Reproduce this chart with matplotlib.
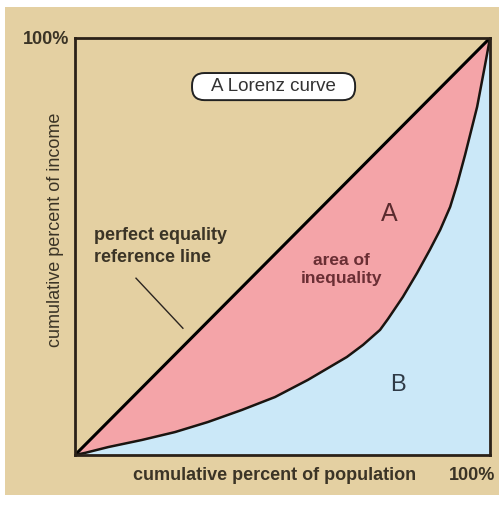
import matplotlib
matplotlib.use("Agg")
import matplotlib.pyplot as plt
from matplotlib.patches import Rectangle, FancyBboxPatch
import numpy as np

plt.rcParams['font.family'] = ['Liberation Sans', 'DejaVu Sans']

# Lorenz curve (cumulative share of population vs. cumulative share of income)
pop = [0.0, 0.024, 0.080, 0.161, 0.241, 0.320, 0.402, 0.482, 0.561, 0.614, 0.655, 0.694,
       0.735, 0.754, 0.790, 0.824, 0.855, 0.880, 0.904, 0.921, 0.940, 0.969, 0.988, 1.0]
income = [0.0, 0.005, 0.019, 0.036, 0.055, 0.079, 0.108, 0.139, 0.180, 0.211, 0.235, 0.264,
          0.300, 0.326, 0.379, 0.436, 0.492, 0.540, 0.595, 0.650, 0.720, 0.835, 0.935, 1.0]
equality = [0.0, 1.0]

BEIGE = '#E4D0A2'
PINK = '#F4A4A8'
BLUE = '#CBE8F8'
DARK = '#2b2118'
TXT = '#3b3426'

fig = plt.figure(figsize=(5.04, 5.08), dpi=100)
fig.patch.set_facecolor('white')
W, H = 504, 508
bg = Rectangle((5 / W, (H - 495) / H), 494 / W, 488 / H,
               transform=fig.transFigure, facecolor=BEIGE,
               edgecolor='none', zorder=-10)
fig.patches.append(bg)

ax = fig.add_axes([75 / W, 53 / H, 415 / W, 417 / H])
ax.set_zorder(1)
ax.set_facecolor(BEIGE)
ax.set_xlim(0, 1)
ax.set_ylim(0, 1)

x = np.array(pop)
y = np.array(income)
ax.fill_between(x, y, x, color=PINK, lw=0, zorder=1)
ax.fill_between(x, 0, y, color=BLUE, lw=0, zorder=1)
ax.plot(equality, equality, color='black', lw=2.2, zorder=3, solid_capstyle='round')
ax.plot(x, y, color='#1a1410', lw=1.8, zorder=3, solid_joinstyle='round')

for s in ax.spines.values():
    s.set_color(DARK)
    s.set_linewidth(2)
    s.set_zorder(4)
ax.set_xticks([])
ax.set_yticks([])

# Title box
box = FancyBboxPatch((0.282, 0.851), 0.393, 0.065,
                     boxstyle='round,pad=0,rounding_size=0.03',
                     transform=ax.transAxes, facecolor='white',
                     edgecolor='#222222', lw=1.4, zorder=5)
ax.add_patch(box)
ax.text(0.4785, 0.884, 'A Lorenz curve', ha='center', va='center', fontsize=13.5,
        color='#333333', zorder=6)

# perfect equality label
ax.text(0.045, 0.50, 'perfect equality\nreference line', ha='left', va='center',
        fontsize=13, fontweight='bold', color=TXT, linespacing=1.45, zorder=5)
ax.plot([0.147, 0.260], [0.424, 0.304], color='#2a2420', lw=1.0, zorder=5)

ax.text(0.757, 0.578, 'A', ha='center', va='center', fontsize=18, color='#5a2a2e', zorder=5)
ax.text(0.641, 0.445, 'area of\ninequality', ha='center', va='center', fontsize=12.5,
        fontweight='bold', color='#6a2e34', linespacing=1.3, zorder=5)
ax.text(0.778, 0.168, 'B', ha='center', va='center', fontsize=17, color='#2f3a46', zorder=5)

# axis labels
fig.text(275 / W, 1 - 476 / H, 'cumulative percent of population', ha='center', va='center',
         fontsize=13, fontweight='bold', color=TXT)
fig.text(472 / W, 1 - 476 / H, '100%', ha='center', va='center',
         fontsize=13, fontweight='bold', color=TXT)
fig.text(46 / W, 1 - 40 / H, '100%', ha='center', va='center',
         fontsize=13, fontweight='bold', color=TXT)
fig.text(56 / W, 1 - 230 / H, 'cumulative percent of income', ha='center', va='center',
         rotation=90, fontsize=13, color=TXT)

fig.savefig('out.png', dpi=100, facecolor=fig.get_facecolor())
